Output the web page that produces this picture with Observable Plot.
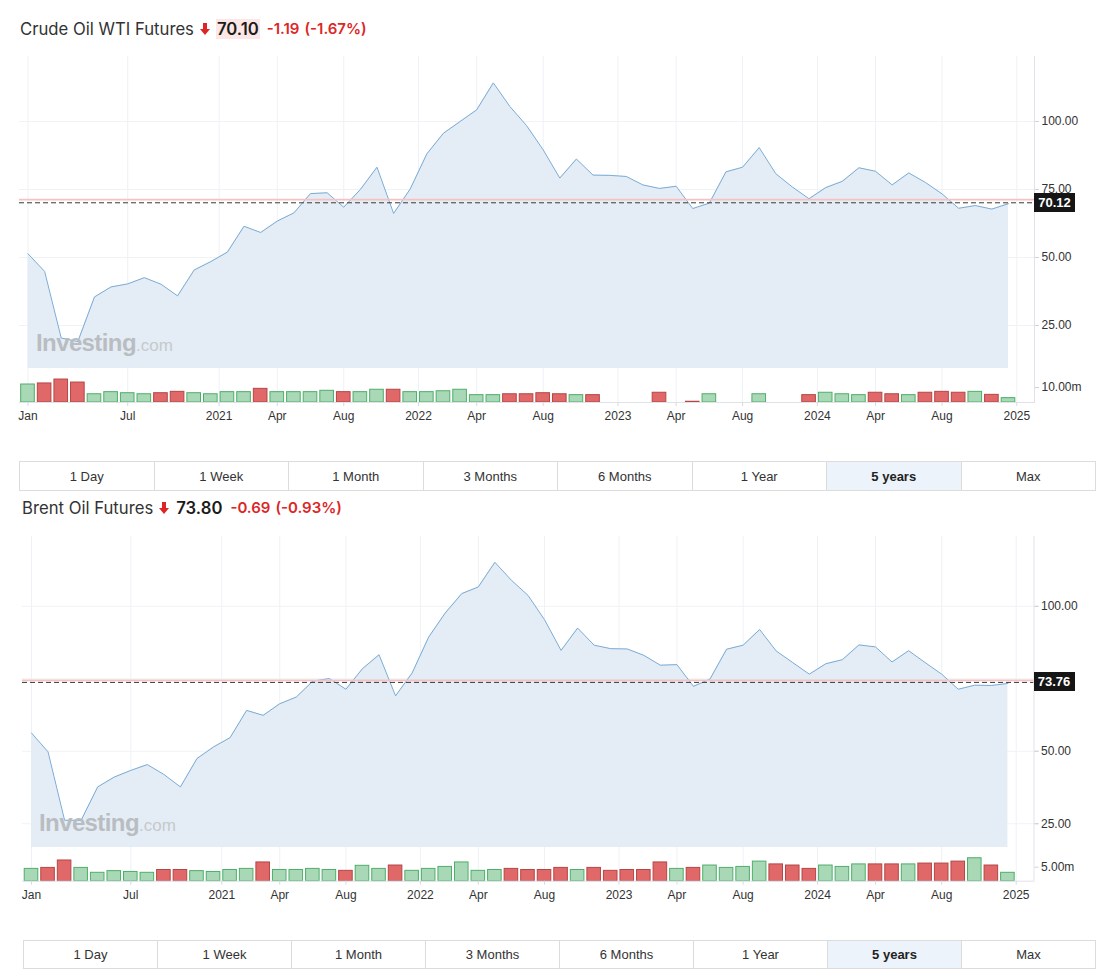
<!DOCTYPE html>
<html><head><meta charset="utf-8">
<script src="https://cdn.jsdelivr.net/npm/d3@7"></script>
<script src="https://cdn.jsdelivr.net/npm/@observablehq/plot@0.6"></script>
<style>
body{margin:0;background:#fff;font-family:"Liberation Sans",Arial,sans-serif;}
#root{position:relative;width:1108px;height:980px;overflow:hidden;background:#fff}
.abs{position:absolute}
.title{font-family:Inter,"Noto Sans",sans-serif;font-size:16.7px;line-height:20px;color:#333;white-space:nowrap;display:flex;align-items:center}
.title .arrow{margin:0 6px 0 6px;display:inline-block;width:10px;height:12px}
.title .px{font-weight:600;color:#1b1b1b;padding:0 1px;font-size:16.7px}
.title .chg{font-weight:600;color:#dc2626;font-size:15px;margin-left:7px}
.title .pct{font-weight:600;color:#dc2626;font-size:15px;margin-left:5px}
.btns{display:flex;border:1px solid #dcdcdc;box-sizing:border-box}
.btns div{flex:1;display:flex;align-items:center;justify-content:center;font-size:13px;color:#333;border-left:1px solid #dcdcdc}
.btns div:first-child{border-left:none}
.btns div.on{background:#edf3fa;font-weight:700;color:#222}
.wm{font-family:"Liberation Sans",Arial,sans-serif;white-space:nowrap;line-height:28px}
.wm b{font-size:24px;color:#b9bdc1;letter-spacing:-0.6px}
.wm span{font-size:17px;color:#c6c9cc}
.lbl{background:#151515;color:#fff;font-weight:700;font-size:13px;display:flex;align-items:center;justify-content:center;width:41px;height:19px}
svg{display:block}
</style></head>
<body><div id="root"></div>
<script>
// ---------- data ----------
const xTickPos = [0, 6, 11.5, 15, 19, 23.5, 27, 31, 35.5, 39, 43, 47.5, 51, 55, 59.5];
const xTickLabels = ["Jan","Jul","2021","Apr","Aug","2022","Apr","Aug","2023","Apr","Aug","2024","Apr","Aug","2025"];
const priceTicks = [25, 50, 75, 100];
const rangeButtons = ["1 Day","1 Week","1 Month","3 Months","6 Months","1 Year","5 years","Max"];

// monthly closes Jan 2020 .. Dec 2024
const wtiClose = [51.4,44.9,20.4,19.1,35.5,39.2,40.3,42.6,40.2,35.9,45.4,48.5,
  52.0,61.5,59.2,63.4,66.4,73.5,73.8,68.5,75.0,83.2,66.2,75.2,
  88.1,95.7,100.0,104.3,114.2,105.5,98.5,89.6,79.2,86.2,80.3,80.2,
  79.8,76.7,75.4,76.2,68.0,70.0,81.5,83.2,90.4,80.8,75.9,71.6,
  75.7,78.0,83.0,81.7,76.7,81.1,77.6,73.4,68.1,69.1,67.8,69.8];
const wtiVolume = [12.0,12.7,15.3,13.3,5.5,6.9,6.2,5.5,6.2,7.1,6.2,5.5,
  6.9,6.9,9.1,6.9,6.9,6.9,7.8,6.9,6.9,8.5,8.5,6.9,
  6.9,7.5,8.5,4.9,4.9,5.5,5.5,6.2,5.5,4.9,4.9,null,
  null,null,6.5,null,0.5,5.5,null,null,5.5,null,null,4.9,
  6.5,5.5,4.9,6.5,5.5,4.9,6.5,7.1,6.5,7.1,5.1,2.9];
const wtiVolDir = "UDDDUUUUDDUU" + "UUDUUUUDUUDU" + "UUUUUDDDDUD-" + "--D-DU--U--D" + "UUUDDUDDDUDU";
const wtiLast = 70.12, wtiPrevClose = 71.29;
const wtiPriceLabels = [25, 50, 75, 100];

const brentClose = [56.3,49.8,26.2,26.2,37.7,41.1,43.4,45.4,42.0,37.7,47.5,51.5,
  54.7,64.1,62.4,66.4,68.7,74.2,75.1,71.4,78.5,83.3,69.1,77.0,
  89.4,97.7,104.4,106.7,115.2,109.0,103.8,95.4,84.8,92.5,86.6,85.4,
  85.3,83.1,79.7,79.9,72.4,74.9,85.2,86.6,92.0,84.6,80.6,76.6,
  80.2,81.6,86.7,86.0,80.8,84.7,80.6,76.6,71.4,72.8,72.7,73.4];
const brentVolume = [4.4,4.75,7.4,4.75,3.0,3.6,3.3,3.0,4.0,4.0,3.6,3.3,
  4.0,4.4,6.7,4.0,4.0,4.4,4.0,3.7,5.5,4.4,5.6,3.7,
  4.4,5.1,6.7,3.7,4.0,4.4,4.0,4.0,4.75,4.0,4.75,3.7,
  4.0,4.0,6.7,4.4,4.75,5.6,4.75,5.1,7.0,6.0,5.6,4.4,
  5.6,5.1,6.0,6.0,6.0,6.0,6.3,6.3,7.0,8.2,5.6,3.0];
const brentVolDir = "UDDUUUUUDDUU" + "UUDUUUUDUUDU" + "UUUUUDDDDUDD" + "DDDUDUUUUDDD" + "UUUDDUDDDUDU";
const brentLast = 73.76, brentPrevClose = 74.49;
const brentPriceLabels = [25, 50, 100]; // 75.00 is hidden behind the price tag

// ---------- drawing ----------
const root = document.getElementById("root");
const FONT = "'Liberation Sans', Arial, sans-serif";
const GREEN = "#a8d8b6", GREEN_S = "#4fae6a", RED = "#e06868", RED_S = "#b54646";

function place(el, left, top) { el.classList.add("abs"); el.style.left = left + "px"; el.style.top = top + "px"; root.appendChild(el); return el; }

function title(name, price, chg, pct, hl, left, top) {
  const d = document.createElement("div");
  d.className = "title";
  d.innerHTML = `<span>${name}</span><svg class="arrow" viewBox="0 0 10 12"><polygon points="3,0 7,0 7,6 10,6 5,12 0,6 3,6" fill="#dc2626"/></svg>` +
    `<span class="px" style="background:${hl ? "#fce6e6" : "transparent"}">${price}</span><span class="chg">${chg}</span><span class="pct">${pct}</span>`;
  place(d, left, top);
}

function pricePanel(opt) {
  const data = opt.close.map((c, i) => ({i, c}));
  const plot = Plot.plot({
    width: 1108, height: opt.height,
    marginLeft: opt.ml, marginRight: opt.mr, marginTop: 0, marginBottom: 0,
    style: {fontFamily: FONT, fontSize: "12px", color: "#333", background: "transparent"},
    x: {domain: [0, 59], range: opt.xRange, axis: null},
    y: {domain: opt.yDomain, range: [opt.height, 0], axis: null},
    marks: [
      Plot.gridX(xTickPos, {stroke: "#eef1f5", strokeOpacity: 1}),
      Plot.gridY(priceTicks, {stroke: "#f1f2f4", strokeOpacity: 1}),
      Plot.areaY(data, {x: "i", y1: opt.yDomain[0], y2: "c", fill: "#e4edf5"}),
      Plot.lineY(data, {x: "i", y: "c", stroke: "#7aacd6", strokeWidth: 1}),
      Plot.ruleY([opt.prev], {stroke: "#f5c2c2", strokeWidth: 1.8}),
      Plot.ruleY([opt.last], {stroke: "#3a3a3a", strokeDasharray: "5,3", strokeWidth: 1}),
      Plot.ruleY([opt.yDomain[0]], {stroke: "#d3d6da"}),
      Plot.frame({anchor: "right", stroke: "#dfe3e8"}),
      Plot.axisY(priceTicks, {anchor: "right", tickFormat: null, text: null, label: null, tickSize: 4, stroke: "#cfd3d8"}),
      Plot.axisY(opt.labels, {anchor: "right", tickFormat: d => d.toFixed(2), label: null, tickSize: 4, tickPadding: 3, stroke: "#cfd3d8", fill: "#333", fontSize: 12})
    ]
  });
  place(plot, 0, opt.top);
  // current price label
  const yy = plot.scale("y").apply(opt.last);
  const lbl = document.createElement("div");
  lbl.className = "lbl"; lbl.textContent = opt.last.toFixed(2);
  place(lbl, opt.labelX, opt.top + yy - 9.5);
  return plot;
}

function volumePanel(opt) {
  const data = opt.vol.map((v, i) => ({i, v, up: opt.dir[i] === "U"})).filter(d => d.v != null);
  const plot = Plot.plot({
    width: 1108, height: opt.height,
    marginLeft: opt.ml, marginRight: opt.mr, marginTop: 0, marginBottom: opt.height - opt.base,
    style: {fontFamily: FONT, fontSize: "12px", color: "#333", background: "transparent"},
    x: {domain: [0, 59], range: opt.xRange, axis: null},
    y: {domain: [0, opt.tick], range: [opt.base, opt.base - opt.tickPx], axis: null},
    marks: [
      Plot.gridX(xTickPos, {stroke: "#eef1f5", strokeOpacity: 1}),
      Plot.rectY(data, {x1: d => d.i - 0.41, x2: d => d.i + 0.41, y: "v",
        fill: d => d.up ? GREEN : RED, stroke: d => d.up ? GREEN_S : RED_S, strokeWidth: 1}),
      Plot.ruleY([0], {stroke: "#dfe3e8"}),
      Plot.frame({anchor: "right", stroke: "#dfe3e8"}),
      Plot.axisY([opt.tick], {anchor: "right", tickFormat: d => d.toFixed(2) + "m", label: null, tickSize: 4, tickPadding: 3, stroke: "#cfd3d8", fill: "#333", fontSize: 12}),
      Plot.axisX(xTickPos, {anchor: "bottom", tickFormat: d => xTickLabels[xTickPos.indexOf(d)], label: null, tickSize: 4, tickPadding: 5, stroke: "#d6dade", fill: "#333", fontSize: 12})
    ]
  });
  place(plot, 0, opt.top);
}

function watermark(left, top) {
  const d = document.createElement("div");
  d.className = "wm";
  d.innerHTML = "<b>Investing</b><span>.com</span>";
  place(d, left, top);
}

function buttons(left, top, width, height) {
  const d = document.createElement("div");
  d.className = "btns";
  d.style.width = width + "px"; d.style.height = height + "px";
  rangeButtons.forEach(b => {
    const c = document.createElement("div");
    c.textContent = b;
    if (b === "5 years") c.className = "on";
    d.appendChild(c);
  });
  place(d, left, top);
}

// WTI
title("Crude Oil WTI Futures", "70.10", "-1.19", "(-1.67%)", true, 20, 19);
pricePanel({close: wtiClose, top: 56, height: 312, ml: 19, mr: 74, xRange: [27.5, 1008],
  yDomain: [9.2, 123.9], last: wtiLast, prev: wtiPrevClose, labelX: 1034, labels: wtiPriceLabels});
watermark(36, 329);
volumePanel({vol: wtiVolume, dir: wtiVolDir, top: 368, height: 62, base: 34, ml: 19, mr: 74,
  xRange: [27.5, 1008], tick: 10, tickPx: 15});
buttons(19, 461, 1077, 30);

// Brent
title("Brent Oil Futures", "73.80", "-0.69", "(-0.93%)", false, 22, 498);
pricePanel({close: brentClose, top: 536, height: 311, ml: 22, mr: 74.5, xRange: [31, 1007.4],
  yDomain: [16.8, 124.1], last: brentLast, prev: brentPrevClose, labelX: 1033.5, labels: brentPriceLabels});
watermark(39, 809);
volumePanel({vol: brentVolume, dir: brentVolDir, top: 847, height: 62, base: 33.7, ml: 22, mr: 74.5,
  xRange: [31, 1007.4], tick: 5, tickPx: 14});
buttons(23, 940, 1073, 29);
</script></body></html>
